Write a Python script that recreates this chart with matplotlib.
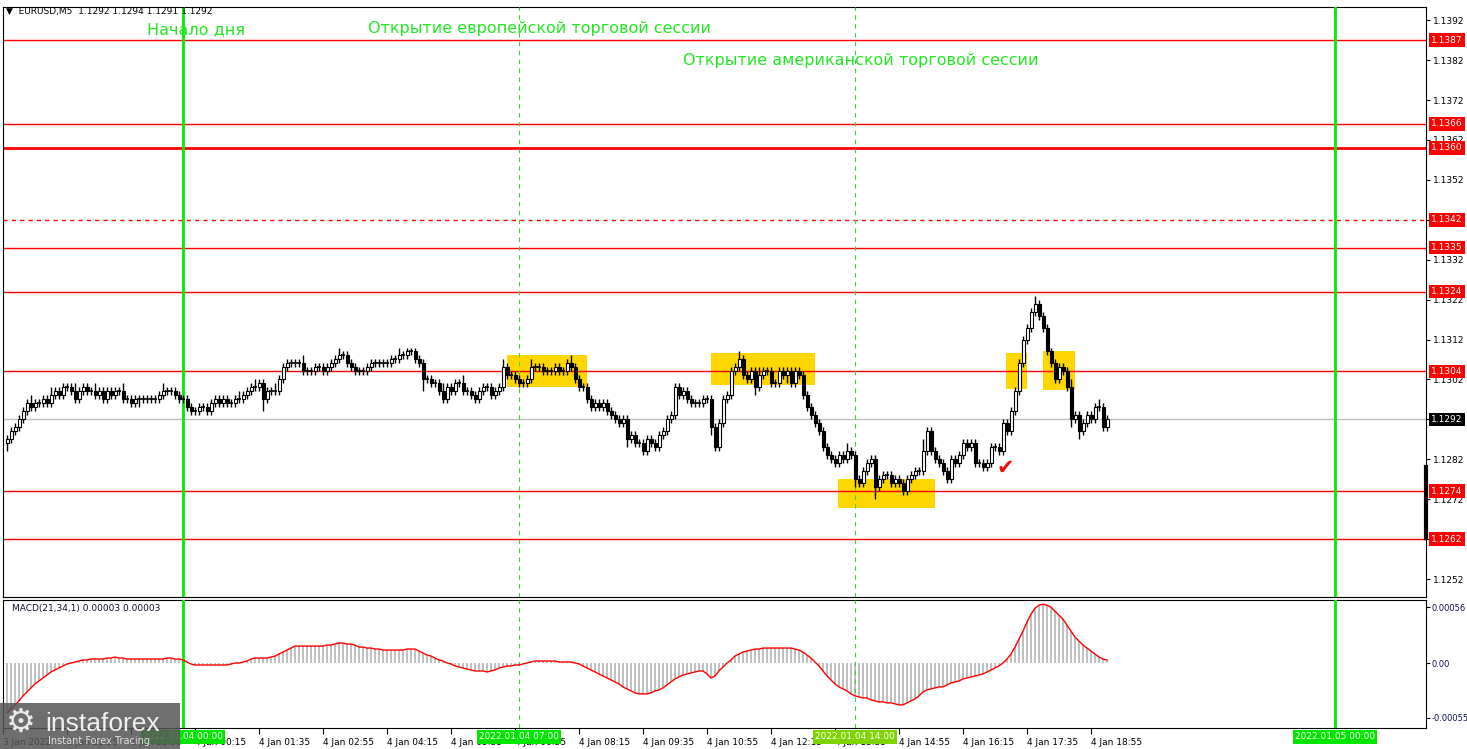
import numpy as np
import matplotlib.pyplot as plt
from matplotlib.patches import Rectangle

# ---- data (prices in pips above 1.1200, MACD in 1e-5) ----
first_open = 86
closes = [87, 89, 90, 92, 94, 96, 95, 96, 96, 97, 96, 98, 99, 98, 100, 100, 99, 97, 99, 100,
          99, 99, 98, 99, 97, 99, 98, 99, 99, 97, 97, 96, 97, 97, 97, 97, 97, 97, 98, 99,
          99, 99, 98, 97, 97, 95, 94, 94, 95, 95, 94, 96, 97, 96, 97, 96, 96, 97, 97, 98,
          99, 100, 100, 101, 97, 99, 99, 99, 102, 105, 106, 106, 106, 106, 104, 104, 104, 105, 105, 104,
          105, 106, 107, 108, 108, 106, 105, 104, 104, 104, 105, 106, 106, 106, 106, 106, 107, 107, 108, 108,
          109, 109, 107, 106, 102, 102, 101, 101, 99, 97, 100, 99, 101, 101, 99, 99, 98, 97, 99, 100,
          100, 98, 99, 100, 105, 103, 103, 102, 101, 101, 102, 105, 105, 105, 104, 104, 104, 105, 104, 104,
          106, 105, 102, 100, 100, 97, 95, 96, 95, 96, 94, 93, 92, 91, 92, 87, 88, 86, 86, 84,
          87, 86, 85, 88, 89, 92, 93, 100, 98, 99, 97, 96, 96, 96, 97, 97, 90, 85, 91, 97,
          98, 104, 105, 107, 103, 102, 104, 100, 103, 104, 104, 101, 101, 104, 103, 104, 101, 104, 103, 98,
          95, 93, 91, 89, 85, 83, 82, 81, 83, 82, 84, 83, 77, 76, 79, 81, 82, 75, 77, 78,
          78, 76, 77, 76, 74, 77, 78, 79, 79, 84, 89, 84, 82, 81, 79, 77, 82, 81, 83, 86,
          85, 86, 81, 81, 80, 81, 85, 85, 84, 91, 89, 94, 99, 106, 112, 115, 119, 121, 118, 115,
          109, 106, 102, 105, 104, 100, 92, 93, 89, 91, 93, 92, 95, 95, 90, 92]
wick_up = ("11111121111211111211" "11211111121111111112" "11111111111111111121"
           "11211112111111211111" "11121111111111111121" "11111111121111211111"
           "11112111111211111111" "12111111111111111111" "11111111111111111111"
           "11121111211111111111" "11111111112111111111" "11111111131111111111"
           "11111111111111111211" "1111112111111211")
wick_dn = ("21111111111111111111" "11111111111112111111" "11111111111111111111"
           "11113111111111111111" "11111111111111111111" "11113111111111111111"
           "11111111111111111111" "11111111111111121111" "11111111111111112111"
           "11111112111111121111" "11111111111121111311" "11111111111111111111"
           "11111111111111111111" "1111112121111111")
macd = [-50, -46, -42, -38, -33, -29, -25, -21, -18, -15, -12, -9, -7, -5, -3, -1, 0, 1, 2, 3,
        3, 4, 4, 4, 4, 5, 5, 6, 5, 5, 4, 4, 4, 4, 4, 4, 4, 4, 4, 4,
        5, 5, 4, 4, 3, 1, -1, -2, -2, -2, -2, -2, -2, -2, -2, -2, -1, 0, 0, 1,
        2, 4, 5, 5, 5, 5, 6, 7, 9, 11, 13, 15, 17, 17, 17, 17, 17, 17, 17, 17,
        18, 18, 19, 20, 20, 19, 19, 18, 16, 16, 15, 15, 14, 14, 13, 13, 13, 13, 13, 13,
        14, 14, 14, 12, 10, 8, 7, 5, 3, 2, 0, -1, -3, -4, -5, -6, -7, -8, -8, -8,
        -9, -8, -7, -5, -4, -3, -3, -2, -2, -1, 0, 1, 2, 2, 2, 2, 2, 2, 1, 1,
        1, 1, 0, -1, -3, -5, -7, -9, -11, -13, -15, -17, -19, -21, -24, -26, -28, -30, -31, -31,
        -31, -30, -28, -27, -25, -22, -19, -16, -14, -12, -11, -10, -9, -8, -8, -11, -15, -13, -8, -4,
        0, 3, 7, 9, 11, 12, 13, 14, 14, 15, 15, 15, 15, 15, 15, 15, 15, 14, 13, 11,
        8, 5, 1, -3, -8, -13, -17, -21, -24, -26, -28, -31, -33, -34, -35, -35, -37, -38, -39, -39,
        -40, -40, -41, -42, -42, -40, -38, -36, -33, -29, -27, -26, -25, -24, -24, -22, -20, -19, -18, -16,
        -15, -14, -13, -12, -11, -9, -7, -5, -3, 0, 4, 9, 16, 24, 32, 41, 49, 55, 58, 59,
        58, 56, 52, 48, 44, 38, 32, 26, 22, 18, 15, 12, 9, 6, 4, 3]

levels = [1.1387, 1.1366, 1.1360, 1.1342, 1.1335, 1.1324, 1.1304, 1.1274, 1.1262]
level_dashed = [False, False, False, True, False, False, False, False, False]
level_width = [1, 1, 2, 1, 1, 1, 1, 1, 1]
last_price = 1.1292

# yellow zones: bar start, bar end, price low, price high
zones = [(125, 145, 1.13001, 1.13081),
         (176, 202, 1.13006, 1.13086),
         (207.75, 232, 1.12698, 1.12770),
         (249.75, 255, 1.12996, 1.13086),
         (259, 267, 1.12993, 1.13091)]

day_bars = [44, 332]          # solid green lines
session_bars = [128, 212]     # dashed lines
date_labels = [(44, '2022.01.04 00:00', '#00e600'), (128, '2022.01.04 07:00', '#00e600'),
               (212, '2022.01.04 14:00', '#7fd400'), (332, '2022.01.05 00:00', '#00e600')]
time_ticks = [-1, 15, 31, 47, 63, 79, 95, 111, 127, 143, 159, 175, 191, 207, 223, 239, 255, 271]
time_labels = ['3 Jan 2022', '3 Jan 21:35', '3 Jan 22:55', '4 Jan 00:15', '4 Jan 01:35',
               '4 Jan 02:55', '4 Jan 04:15', '4 Jan 05:35', '4 Jan 06:55', '4 Jan 08:15',
               '4 Jan 09:35', '4 Jan 10:55', '4 Jan 12:15', '4 Jan 13:35', '4 Jan 14:55',
               '4 Jan 16:15', '4 Jan 17:35', '4 Jan 18:55']

assert len(closes) == len(macd) == len(wick_up) == len(wick_dn)

W, H = 1467, 749
fig = plt.figure(figsize=(W / 100, H / 100), dpi=100)
fig.patch.set_facecolor('white')

def fx(px):
    return px / W

def fy(py):
    return 1 - py / H

ax = fig.add_axes([fx(3), fy(597), fx(1426) - fx(3), fy(7) - fy(597)])
axm = fig.add_axes([fx(3), fy(728), fx(1426) - fx(3), fy(600) - fy(728)])

n = len(closes)
idx = np.arange(n)
c = 1.12 + np.array(closes) / 10000
o = np.concatenate(([1.12 + first_open / 10000], c[:-1]))
up = np.array([int(ch) for ch in wick_up]) / 10000
dn = np.array([int(ch) for ch in wick_dn]) / 10000
hi = np.maximum(o, c) + up
lo = np.minimum(o, c) - dn

xmin, xmax = -1, 354.75
ax.set_xlim(xmin, xmax)
ax.set_ylim(1.12475, 1.13953)

# zones
for x0, x1, p0, p1 in zones:
    ax.add_patch(Rectangle((x0, p0), x1 - x0, p1 - p0, facecolor='#ffd700', edgecolor='none', zorder=1))

# levels
for lv, dsh, lw in zip(levels, level_dashed, level_width):
    ax.axhline(lv, color='red', lw=lw, ls=(0, (3, 3)) if dsh else '-', zorder=2)
ax.axhline(last_price, color='#c0c0c0', lw=1, zorder=2)

# vertical markers
for a in (ax, axm):
    for b in day_bars:
        a.axvline(b, color='#00ee00', lw=2, zorder=3)
    for b in session_bars:
        a.axvline(b, color='#44cc44', lw=0.8, ls=(0, (4, 4)), zorder=3)

# candles
bull = c > o
bear = c < o
doji = c == o
ax.vlines(idx, lo, hi, color='black', lw=1, zorder=4)
ax.bar(idx[bull], (c - o)[bull], bottom=o[bull], width=0.75, color='white', edgecolor='black', lw=0.8, zorder=5)
ax.bar(idx[bear], (o - c)[bear], bottom=c[bear], width=0.75, color='black', edgecolor='black', lw=0.8, zorder=5)
ax.hlines(c[doji], idx[doji] - 0.45, idx[doji] + 0.45, color='black', lw=1.2, zorder=5)

# price axis
ax.yaxis.tick_right()
yt = np.round(np.arange(1.1252, 1.1393, 0.0010), 4)
ax.set_yticks(yt)
ax.set_yticklabels(['%.4f' % v for v in yt])
ax.tick_params(axis='y', labelsize=6.5, length=3, pad=2, direction='out')
ax.set_xticks([])

tr = ax.get_yaxis_transform()
for lv in levels:
    ax.text(1.0035, lv, '%.4f' % lv, transform=tr, ha='left', va='center', fontsize=6.5, color='white',
            bbox=dict(boxstyle='square,pad=0.25', fc='#ff0000', ec='none'), clip_on=False, zorder=10)
ax.text(1.0035, last_price, '%.4f' % last_price, transform=tr, ha='left', va='center', fontsize=6.5,
        color='white', bbox=dict(boxstyle='square,pad=0.25', fc='black', ec='none'), clip_on=False, zorder=10)
ax.plot([1.0, 1.0], [1.12800, 1.12622], transform=tr, color='black', lw=3, clip_on=False, zorder=9)

# annotations
green = '#22e822'
fig.text(fx(147), fy(30), 'Начало дня', color=green, fontsize=11.5, va='center', ha='left')
fig.text(fx(368), fy(28), 'Открытие европейской торговой сессии', color=green, fontsize=11.5, va='center', ha='left')
fig.text(fx(683), fy(60), 'Открытие американской торговой сессии', color=green, fontsize=11.5, va='center', ha='left')
fig.text(fx(997), fy(468), '✔', color='red', fontsize=15, va='center', ha='left')
fig.text(fx(6), fy(11), '▼  EURUSD,M5  1.1292 1.1294 1.1291 1.1292', fontsize=6.5, va='center', ha='left')

# MACD pane
axm.set_xlim(xmin, xmax)
axm.set_ylim(-0.000652, 0.000632)
mv = np.array(macd) * 1e-5
axm.bar(idx, mv, width=0.5, color='#c0c0c0', zorder=2)
axm.plot(idx, mv, color='red', lw=1, zorder=4)
axm.yaxis.tick_right()
axm.set_yticks([0.00056, 0.0, -0.00055])
axm.set_yticklabels(['0.00056', '0.00', '-0.00055'])
axm.tick_params(axis='y', labelsize=6, length=3, pad=1, labelcolor='#101050')
axm.set_xticks(time_ticks)
axm.set_xticklabels(time_labels)
axm.tick_params(axis='x', labelsize=6.5, length=4, pad=3)
for lab in axm.get_xticklabels():
    lab.set_horizontalalignment('left')
axm.text(0.006, 0.93, 'MACD(21,34,1) 0.00003 0.00003', transform=axm.transAxes, fontsize=6.5,
         color='#101030', va='center', ha='left')

# date boxes on the time axis
trm = axm.get_xaxis_transform()
for b, txt, col in date_labels:
    axm.text(b, -0.07, txt, transform=trm, ha='center', va='center', fontsize=6.5, color='white',
             bbox=dict(boxstyle='square,pad=0.25', fc=col, ec='none'), clip_on=False, zorder=10)

# logo
fig.patches.append(Rectangle((0, 0), fx(180), fy(703), transform=fig.transFigure,
                             facecolor='#555555', alpha=0.85, edgecolor='none', zorder=20))
fig.text(fx(6), fy(722), '⚙', color='#e8e8e8', fontsize=24, va='center', ha='left', zorder=21)
fig.text(fx(45), fy(724), 'instaforex', color='#f0f0f0', fontsize=19, family='Liberation Sans',
         va='center', ha='left', zorder=21)
fig.text(fx(48), fy(741), 'Instant Forex Tracing', color='#e0e0e0', fontsize=7, va='center', ha='left', zorder=21)

fig.savefig('out.png', dpi=100)
